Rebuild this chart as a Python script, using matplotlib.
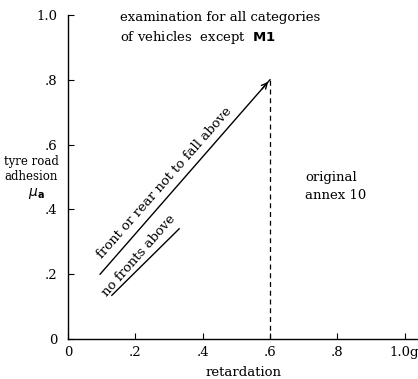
import matplotlib.pyplot as plt

# limit lines (retardation, adhesion)
front_rear_x = [0.095, 0.6]
front_rear_y = [0.2, 0.8]
no_front_x = [0.13, 0.33]
no_front_y = [0.135, 0.34]
limit_x = 0.6
limit_top = 0.8

xticks = [0, 0.2, 0.4, 0.6, 0.8, 1.0]
xlabels = ["0", ".2", ".4", ".6", ".8", "1.0g"]
yticks = [0, 0.2, 0.4, 0.6, 0.8, 1.0]
ylabels = ["0", ".2", ".4", ".6", ".8", "1.0"]

plt.rcParams['font.family'] = ['DejaVu Serif']

fig = plt.figure(figsize=(4.18, 3.79), dpi=100)
ax = fig.add_axes([0.163, 0.1055, 0.837, 0.855])

ax.plot(front_rear_x, front_rear_y, color="black", lw=1.0)
ax.annotate("", xy=(front_rear_x[1], front_rear_y[1]),
            xytext=(front_rear_x[1] - 0.03, front_rear_y[1] - 0.036),
            arrowprops=dict(arrowstyle="->", color="black", lw=1.0))
ax.plot(no_front_x, no_front_y, color="black", lw=1.0)
ax.plot([limit_x, limit_x], [0, limit_top], color="black", lw=0.9, ls=(0, (4, 3)))

ax.set_xlim(0, 1.04)
ax.set_ylim(0, 1.0)
for s in ["top", "right"]:
    ax.spines[s].set_visible(False)
ax.spines["left"].set_linewidth(1.0)
ax.spines["bottom"].set_linewidth(1.0)

ax.set_xticks(xticks)
ax.set_xticklabels(xlabels)
ax.set_yticks(yticks)
ax.set_yticklabels(ylabels)
ax.tick_params(direction="in", length=4, labelsize=9.5)
ax.tick_params(axis="y", pad=8)
ax.tick_params(axis="x", pad=5)

ax.set_xlabel("retardation", fontsize=9.5, labelpad=5)

fig.text(0.075, 0.555, "tyre road\nadhesion", fontsize=8.5, ha="center", va="center",
         linespacing=1.2)
fig.text(0.088, 0.49, r"$\mu_\mathbf{a}$", fontsize=10, ha="center", va="center",
         fontweight="bold")

ax.text(0.155, 1.012, "examination for all categories\nof vehicles  except  $\\mathbf{M1}$",
        fontsize=9.5, ha="left", va="top", linespacing=1.45, clip_on=False)
ax.text(0.705, 0.47, "original\nannex 10", fontsize=9.5, ha="left", va="center",
        linespacing=1.5)

ax.text(0.3, 0.47, "front or rear not to fall above", fontsize=9.5,
        rotation=48.6, rotation_mode="anchor", ha="center", va="bottom")
ax.text(0.225, 0.245, "no fronts above", fontsize=9.5,
        rotation=48.6, rotation_mode="anchor", ha="center", va="bottom")

fig.savefig("out.png", dpi=100)
